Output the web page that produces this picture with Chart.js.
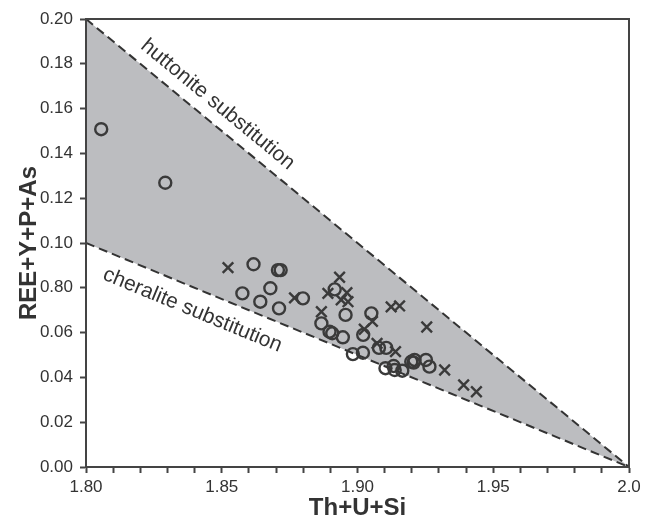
<!DOCTYPE html>
<html>
<head>
<meta charset="utf-8">
<script src="https://cdn.jsdelivr.net/npm/chart.js@4.4.0/dist/chart.umd.min.js"></script>
<style>
  html, body { margin: 0; padding: 0; background: #ffffff; }
  #wrap { width: 645px; height: 524px; }
</style>
</head>
<body>
<div id="wrap"><canvas id="chart" width="645" height="524"></canvas></div>
<script>
// Monazite composition plot - Th+U+Si vs REE+Y+P+As

// circles
const circleX = [1.8056, 1.8292, 1.8617, 1.8707, 1.8717, 1.8576, 1.8679, 1.8642, 1.8711, 1.8799,
                 1.8916, 1.8956, 1.8867, 1.8897, 1.8907, 1.8946, 1.9051, 1.9021, 1.8983, 1.9020,
                 1.9079, 1.9106, 1.9103, 1.9133, 1.9137, 1.9165, 1.9198, 1.9207, 1.9210, 1.9252,
                 1.9265];
const circleY = [0.1508, 0.1269, 0.0905, 0.0879, 0.0879, 0.0775, 0.0798, 0.0738, 0.0708, 0.0753,
                 0.0793, 0.0679, 0.0641, 0.0604, 0.0597, 0.0579, 0.0686, 0.0590, 0.0504, 0.0510,
                 0.0532, 0.0532, 0.0441, 0.0451, 0.0433, 0.0430, 0.0470, 0.0466, 0.0478, 0.0478,
                 0.0448];

// crosses
const crossX = [1.8523, 1.8768, 1.8934, 1.8891, 1.8961, 1.8940, 1.8965, 1.8867, 1.9025, 1.9055,
                1.9124, 1.9155, 1.9072, 1.9140, 1.9255, 1.9321, 1.9391, 1.9438];
const crossY = [0.0890, 0.0755, 0.0847, 0.0775, 0.0778, 0.0746, 0.0738, 0.0693, 0.0615, 0.0650,
                0.0715, 0.0719, 0.0552, 0.0515, 0.0625, 0.0433, 0.0366, 0.0336];

// substitution lines (end points)
const huttoniteX = [1.80, 2.00];
const huttoniteY = [0.20, 0.00];
const cheraliteX = [1.80, 2.00];
const cheraliteY = [0.10, 0.00];

// tick labels (as printed on the original, incl. its "0.80")
const yTickLabels = ['0.00', '0.02', '0.04', '0.06', '0.80', '0.10', '0.12', '0.14', '0.16', '0.18', '0.20'];
const xTickLabels = ['1.80', '', '', '', '', '1.85', '', '', '', '', '1.90', '', '', '', '', '1.95', '', '', '', '', '2.0'];

const xTitle = 'Th+U+Si';
const yTitle = 'REE+Y+P+As';

function toPoints(xs, ys) {
    return xs.map((x, i) => ({ x: x, y: ys[i] }));
}

const INK = '#3a3a3a';
const FONT = '"Liberation Sans", Arial, Helvetica, sans-serif';

// rotated labels along the dashed lines
const lineLabels = [
    { text: 'huttonite substitution', x: 1.8485, y: 0.1618, lx: huttoniteX, ly: huttoniteY },
    { text: 'cheralite substitution', x: 1.8392, y: 0.0700, lx: cheraliteX, ly: cheraliteY }
];

const labelPlugin = {
    id: 'lineLabels',
    afterDatasetsDraw(chart) {
        const ctx = chart.ctx;
        const xs = chart.scales.x, ys = chart.scales.y;
        ctx.save();
        ctx.fillStyle = '#333333';
        ctx.font = '21px ' + FONT;
        ctx.textAlign = 'center';
        ctx.textBaseline = 'middle';
        lineLabels.forEach(l => {
            const x0 = xs.getPixelForValue(l.lx[0]), y0 = ys.getPixelForValue(l.ly[0]);
            const x1 = xs.getPixelForValue(l.lx[1]), y1 = ys.getPixelForValue(l.ly[1]);
            const angle = Math.atan2(y1 - y0, x1 - x0);
            ctx.save();
            ctx.translate(xs.getPixelForValue(l.x), ys.getPixelForValue(l.y));
            ctx.rotate(angle);
            ctx.fillText(l.text, 0, 0);
            ctx.restore();
        });
        ctx.restore();
    }
};

// box round the plot area
const framePlugin = {
    id: 'frame',
    afterDraw(chart) {
        const a = chart.chartArea;
        const ctx = chart.ctx;
        ctx.save();
        ctx.strokeStyle = '#444444';
        ctx.lineWidth = 2;
        ctx.strokeRect(a.left, a.top, a.right - a.left, a.bottom - a.top);
        ctx.restore();
    }
};

Chart.defaults.font.family = FONT;
Chart.defaults.color = '#333333';

new Chart(document.getElementById('chart').getContext('2d'), {
    type: 'scatter',
    data: {
        datasets: [
            {
                label: 'huttonite',
                data: toPoints(huttoniteX, huttoniteY),
                showLine: true,
                borderColor: '#333333',
                borderWidth: 2,
                borderDash: [9, 5],
                pointRadius: 0,
                backgroundColor: '#bcbdc0',
                fill: '+1',
                order: 1
            },
            {
                label: 'cheralite',
                data: toPoints(cheraliteX, cheraliteY),
                showLine: true,
                borderColor: '#333333',
                borderWidth: 2,
                borderDash: [9, 5],
                pointRadius: 0,
                fill: false,
                order: 1
            },
            {
                label: 'circles',
                data: toPoints(circleX, circleY),
                pointStyle: 'circle',
                pointRadius: 6,
                borderWidth: 2.4,
                borderColor: INK,
                backgroundColor: 'rgba(0,0,0,0)',
                order: 0
            },
            {
                label: 'crosses',
                data: toPoints(crossX, crossY),
                pointStyle: 'crossRot',
                pointRadius: 7.5,
                borderWidth: 2.4,
                borderColor: INK,
                order: 0
            }
        ]
    },
    options: {
        responsive: false,
        animation: false,
        layout: { padding: { top: 19, right: 16, left: 0, bottom: 0 } },
        plugins: {
            legend: { display: false },
            tooltip: { enabled: false },
            filler: { drawTime: 'beforeDatasetsDraw' }
        },
        scales: {
            x: {
                type: 'linear',
                min: 1.8,
                max: 2.0,
                afterFit: s => { s.height = 57; },
                border: { display: true, color: '#444444', width: 2 },
                grid: { drawOnChartArea: false, drawTicks: true, tickLength: 6, tickWidth: 2, tickColor: '#444444' },
                ticks: {
                    stepSize: 0.01,
                    autoSkip: false,
                    maxRotation: 0,
                    padding: 4,
                    font: { size: 17 },
                    color: '#333333',
                    callback: (v, i) => xTickLabels[i]
                },
                title: {
                    display: true,
                    text: xTitle,
                    font: { size: 24, weight: 'bold' },
                    color: '#333333',
                    padding: { top: 0, bottom: 1 }
                }
            },
            y: {
                type: 'linear',
                min: 0,
                max: 0.2,
                afterFit: s => { s.width = 86; },
                border: { display: true, color: '#444444', width: 2 },
                grid: { drawOnChartArea: false, drawTicks: true, tickLength: 6, tickWidth: 2, tickColor: '#444444' },
                ticks: {
                    stepSize: 0.02,
                    padding: 7,
                    font: { size: 17 },
                    color: '#333333',
                    callback: (v, i) => yTickLabels[i]
                },
                title: {
                    display: true,
                    text: yTitle,
                    font: { size: 24, weight: 'bold' },
                    color: '#333333',
                    padding: { top: 15, bottom: 0 }
                }
            }
        }
    },
    plugins: [labelPlugin, framePlugin]
});
</script>
</body>
</html>
